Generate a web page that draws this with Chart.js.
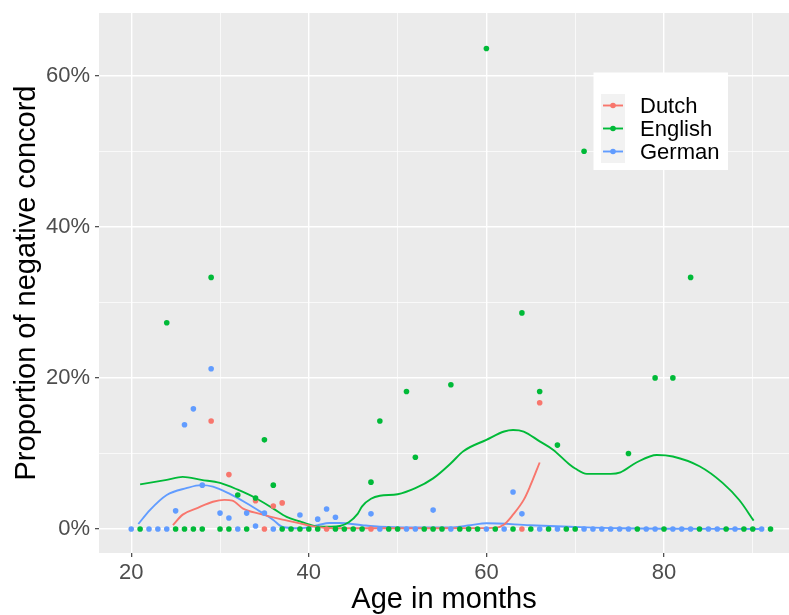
<!DOCTYPE html>
<html><head><meta charset="utf-8">
<script src="https://cdn.jsdelivr.net/npm/chart.js@4.4.1/dist/chart.umd.min.js"></script>
<style>html,body{margin:0;padding:0;background:#fff;}canvas{display:block;}</style>
</head><body>
<canvas id="c" width="789" height="615"></canvas>
<script>
// ---------- data (values in percent) ----------
const languages = ['Dutch', 'English', 'German'];
const colors = ['#F8766D', '#00BA38', '#619CFF'];

const dutchAges = [29, 31, 34, 35, 36, 37, 42, 47, 64, 66];
const dutchVals = [14.3, 7.2, 3.75, 0, 3.05, 3.45, 0, 0, 0, 16.7];

const englishAges = [21, 24, 25, 26, 27, 28, 29, 30, 31, 32, 33, 34, 35, 36, 37, 38, 39, 40, 41, 43,
  44, 45, 46, 47, 48, 49, 50, 51, 52, 53, 54, 55, 56, 57, 58, 59, 60, 61, 63, 64,
  65, 66, 67, 68, 69, 70, 71, 76, 77, 79, 80, 81, 83, 84, 87, 89, 90, 92];
const englishVals = [0, 27.3, 0, 0, 0, 0, 33.3, 0, 0, 4.5, 0, 4.1, 11.8, 5.8, 0, 0, 0, 0, 0, 0,
  0, 0, 0, 6.2, 14.3, 0, 0, 18.2, 9.5, 0, 0, 0, 19.1, 0, 0, 0, 63.6, 0, 0, 28.6,
  0, 18.2, 0, 11.1, 0, 0, 50.0, 10.0, 0, 20.0, 0, 20.0, 33.3, 0, 0, 0, 0, 0];

const germanAges = [20, 22, 23, 24, 25, 26, 27, 28, 29, 30, 31, 32, 33, 34, 35, 36, 39, 41, 42, 43,
  47, 48, 51, 52, 54, 56, 60, 62, 63, 64, 66, 68, 71, 72, 73, 74, 75, 76, 78, 79,
  81, 82, 83, 85, 86, 88, 91];
const germanVals = [0, 0, 0, 0, 2.4, 13.8, 15.9, 5.8, 21.2, 2.1, 1.45, 0, 2.1, 0.4, 2.1, 0, 1.85, 1.3, 2.65, 1.55,
  2.0, 0, 0, 0, 2.5, 0, 0, 0, 4.9, 2.0, 0, 0, 0, 0, 0, 0, 0, 0, 0, 0,
  0, 0, 0, 0, 0, 0, 0];

// smoothed trend lines
const dutchSmoothAges = [24.7, 25.8, 27.5, 29.2, 30.5, 31.4, 32.6, 34.5, 36.8, 39, 40.5, 42.7, 53.7, 61, 62, 63, 64.2, 64.9, 66];
const dutchSmoothVals = [0.5, 1.9, 2.8, 3.6, 3.85, 3.75, 2.7, 2.0, 1.3, 0.75, 0.35, 0.1, 0.1, 0.15, 0.6, 1.9, 3.85, 5.6, 8.8];

const englishSmoothAges = [21, 24, 25.8, 27.9, 30, 32, 34, 36, 37.5, 39, 40, 41, 42.5, 43.5, 44.5, 45.5, 46, 47, 48, 50,
  52, 54, 56, 57.4, 60, 62, 63, 64.2, 66, 67.5, 69.4, 70, 71.3, 74, 75.1, 76.9, 79.2, 81, 84, 86.6, 88.5, 90.1];
const englishSmoothVals = [5.9, 6.5, 6.9, 6.5, 6.1, 5.2, 4.1, 2.7, 1.6, 1.0, 0.6, 0.3, 0.3, 0.4, 0.9, 2.0, 3.0, 4.0, 4.4, 4.6,
  5.4, 6.7, 8.7, 10.3, 11.8, 12.9, 13.1, 12.9, 11.6, 10.5, 8.5, 8.0, 7.3, 7.3, 7.5, 8.8, 9.8, 9.6, 8.3, 6.1, 3.8, 1.1];

const germanSmoothAges = [20.8, 22.1, 24, 26.2, 27.9, 29.2, 31, 33, 34.8, 36, 37, 39, 41, 42.3, 43.5, 46, 48, 51.8, 55.9, 58.2,
  60, 64.9, 69.4, 75, 91];
const germanSmoothVals = [0.66, 2.5, 4.5, 5.4, 5.8, 5.6, 4.7, 3.4, 2.1, 1.2, 0.3, 0.1, 0.5, 0.8, 0.8, 0.5, 0.3, 0.2, 0.2, 0.5,
  0.75, 0.5, 0.3, 0.1, 0];

const xTicks = [20, 30, 40, 50, 60, 70, 80, 90];
const xMajor = [20, 40, 60, 80];
const yTicks = [0, 10, 20, 30, 40, 50, 60];
const yMajor = [0, 20, 40, 60];

const xTitle = 'Age in months';
const yTitle = 'Proportion of negative concord';

// ---------- build ----------
function pts(xs, ys) { return xs.map((x, i) => ({ x: x, y: ys[i] })); }
const pointSets = [pts(dutchAges, dutchVals), pts(englishAges, englishVals), pts(germanAges, germanVals)];
const smoothSets = [pts(dutchSmoothAges, dutchSmoothVals), pts(englishSmoothAges, englishSmoothVals), pts(germanSmoothAges, germanSmoothVals)];

const FONT = "'Liberation Sans', Arial, sans-serif";
const datasets = [];
languages.forEach((lang, i) => {
  datasets.push({
    label: lang, data: pointSets[i], showLine: false,
    pointRadius: 2.8, pointHoverRadius: 2.8, pointBorderWidth: 0,
    backgroundColor: colors[i], borderColor: colors[i], order: 3 - i
  });
});
languages.forEach((lang, i) => {
  datasets.push({
    label: lang + ' trend', data: smoothSets[i], showLine: true,
    pointRadius: 0, borderWidth: 1.9, borderColor: colors[i], backgroundColor: colors[i],
    cubicInterpolationMode: 'monotone', order: 10
  });
});

const bgPlugin = {
  id: 'panelBg',
  beforeDraw(chart) {
    const { ctx, chartArea: a } = chart;
    ctx.save();
    ctx.fillStyle = '#fff';
    ctx.fillRect(0, 0, chart.width, chart.height);
    ctx.fillStyle = '#EBEBEB';
    ctx.fillRect(a.left, a.top, a.right - a.left, a.bottom - a.top);
    ctx.restore();
  }
};

const legendPlugin = {
  id: 'insideLegend',
  afterDraw(chart) {
    const ctx = chart.ctx;
    ctx.save();
    ctx.fillStyle = '#fff';
    ctx.fillRect(593.5, 72.5, 134.5, 97.5);
    ctx.fillStyle = '#F2F2F2';
    ctx.fillRect(601, 94, 24, 69);
    ctx.font = '22px ' + FONT;
    ctx.textBaseline = 'middle';
    ctx.textAlign = 'left';
    languages.forEach((lang, i) => {
      const cy = 105.5 + i * 23;
      ctx.strokeStyle = colors[i];
      ctx.lineWidth = 1.9;
      ctx.beginPath(); ctx.moveTo(603, cy); ctx.lineTo(623, cy); ctx.stroke();
      ctx.fillStyle = colors[i];
      ctx.beginPath(); ctx.arc(613, cy, 2.8, 0, Math.PI * 2); ctx.fill();
      ctx.fillStyle = '#000';
      ctx.fillText(chart.data.datasets[i].label, 640, cy + 1);
    });
    ctx.restore();
  }
};

function zeroPad(s) { s.paddingTop = 0; s.paddingBottom = 0; s.paddingLeft = 0; s.paddingRight = 0; }

new Chart(document.getElementById('c'), {
  type: 'scatter',
  data: { datasets },
  plugins: [bgPlugin, legendPlugin],
  options: {
    responsive: false, animation: false,
    layout: { autoPadding: false, padding: { top: 13, left: 0, right: 0, bottom: 0 } },
    plugins: { legend: { display: false }, tooltip: { enabled: false } },
    scales: {
      x: {
        type: 'linear', min: 16.37, max: 94.08,
        afterBuildTicks: s => { s.ticks = xTicks.map(v => ({ value: v })); },
        afterFit: s => { s.height = 62; zeroPad(s); },
        border: { display: false },
        grid: {
          color: '#FFFFFF',
          lineWidth: c => xMajor.includes(c.tick.value) ? 1.4 : 0.7,
          tickColor: c => xMajor.includes(c.tick.value) ? '#333333' : 'rgba(0,0,0,0)',
          tickLength: 4, tickWidth: 1.1
        },
        ticks: {
          autoSkip: false, maxRotation: 0, padding: 3,
          color: '#4D4D4D', font: { family: FONT, size: 22 },
          callback: v => xMajor.includes(v) ? String(v) : ''
        },
        title: { display: true, text: xTitle, color: '#000', font: { family: FONT, size: 29 }, padding: { top: 0, bottom: -2 } }
      },
      y: {
        type: 'linear', min: -3.18, max: 68.3,
        afterBuildTicks: s => { s.ticks = yTicks.map(v => ({ value: v })); },
        afterFit: s => { s.width = 99; zeroPad(s); },
        border: { display: false },
        grid: {
          color: '#FFFFFF',
          lineWidth: c => yMajor.includes(c.tick.value) ? 1.4 : 0.7,
          tickColor: c => yMajor.includes(c.tick.value) ? '#333333' : 'rgba(0,0,0,0)',
          tickLength: 4, tickWidth: 1.1
        },
        ticks: {
          autoSkip: false, padding: 5,
          color: '#4D4D4D', font: { family: FONT, size: 22 },
          callback: v => yMajor.includes(v) ? v + '%' : ''
        },
        title: { display: true, text: yTitle, color: '#000', font: { family: FONT, size: 29 }, padding: { top: 10, bottom: 0 } }
      }
    }
  }
});
</script>
</body></html>
